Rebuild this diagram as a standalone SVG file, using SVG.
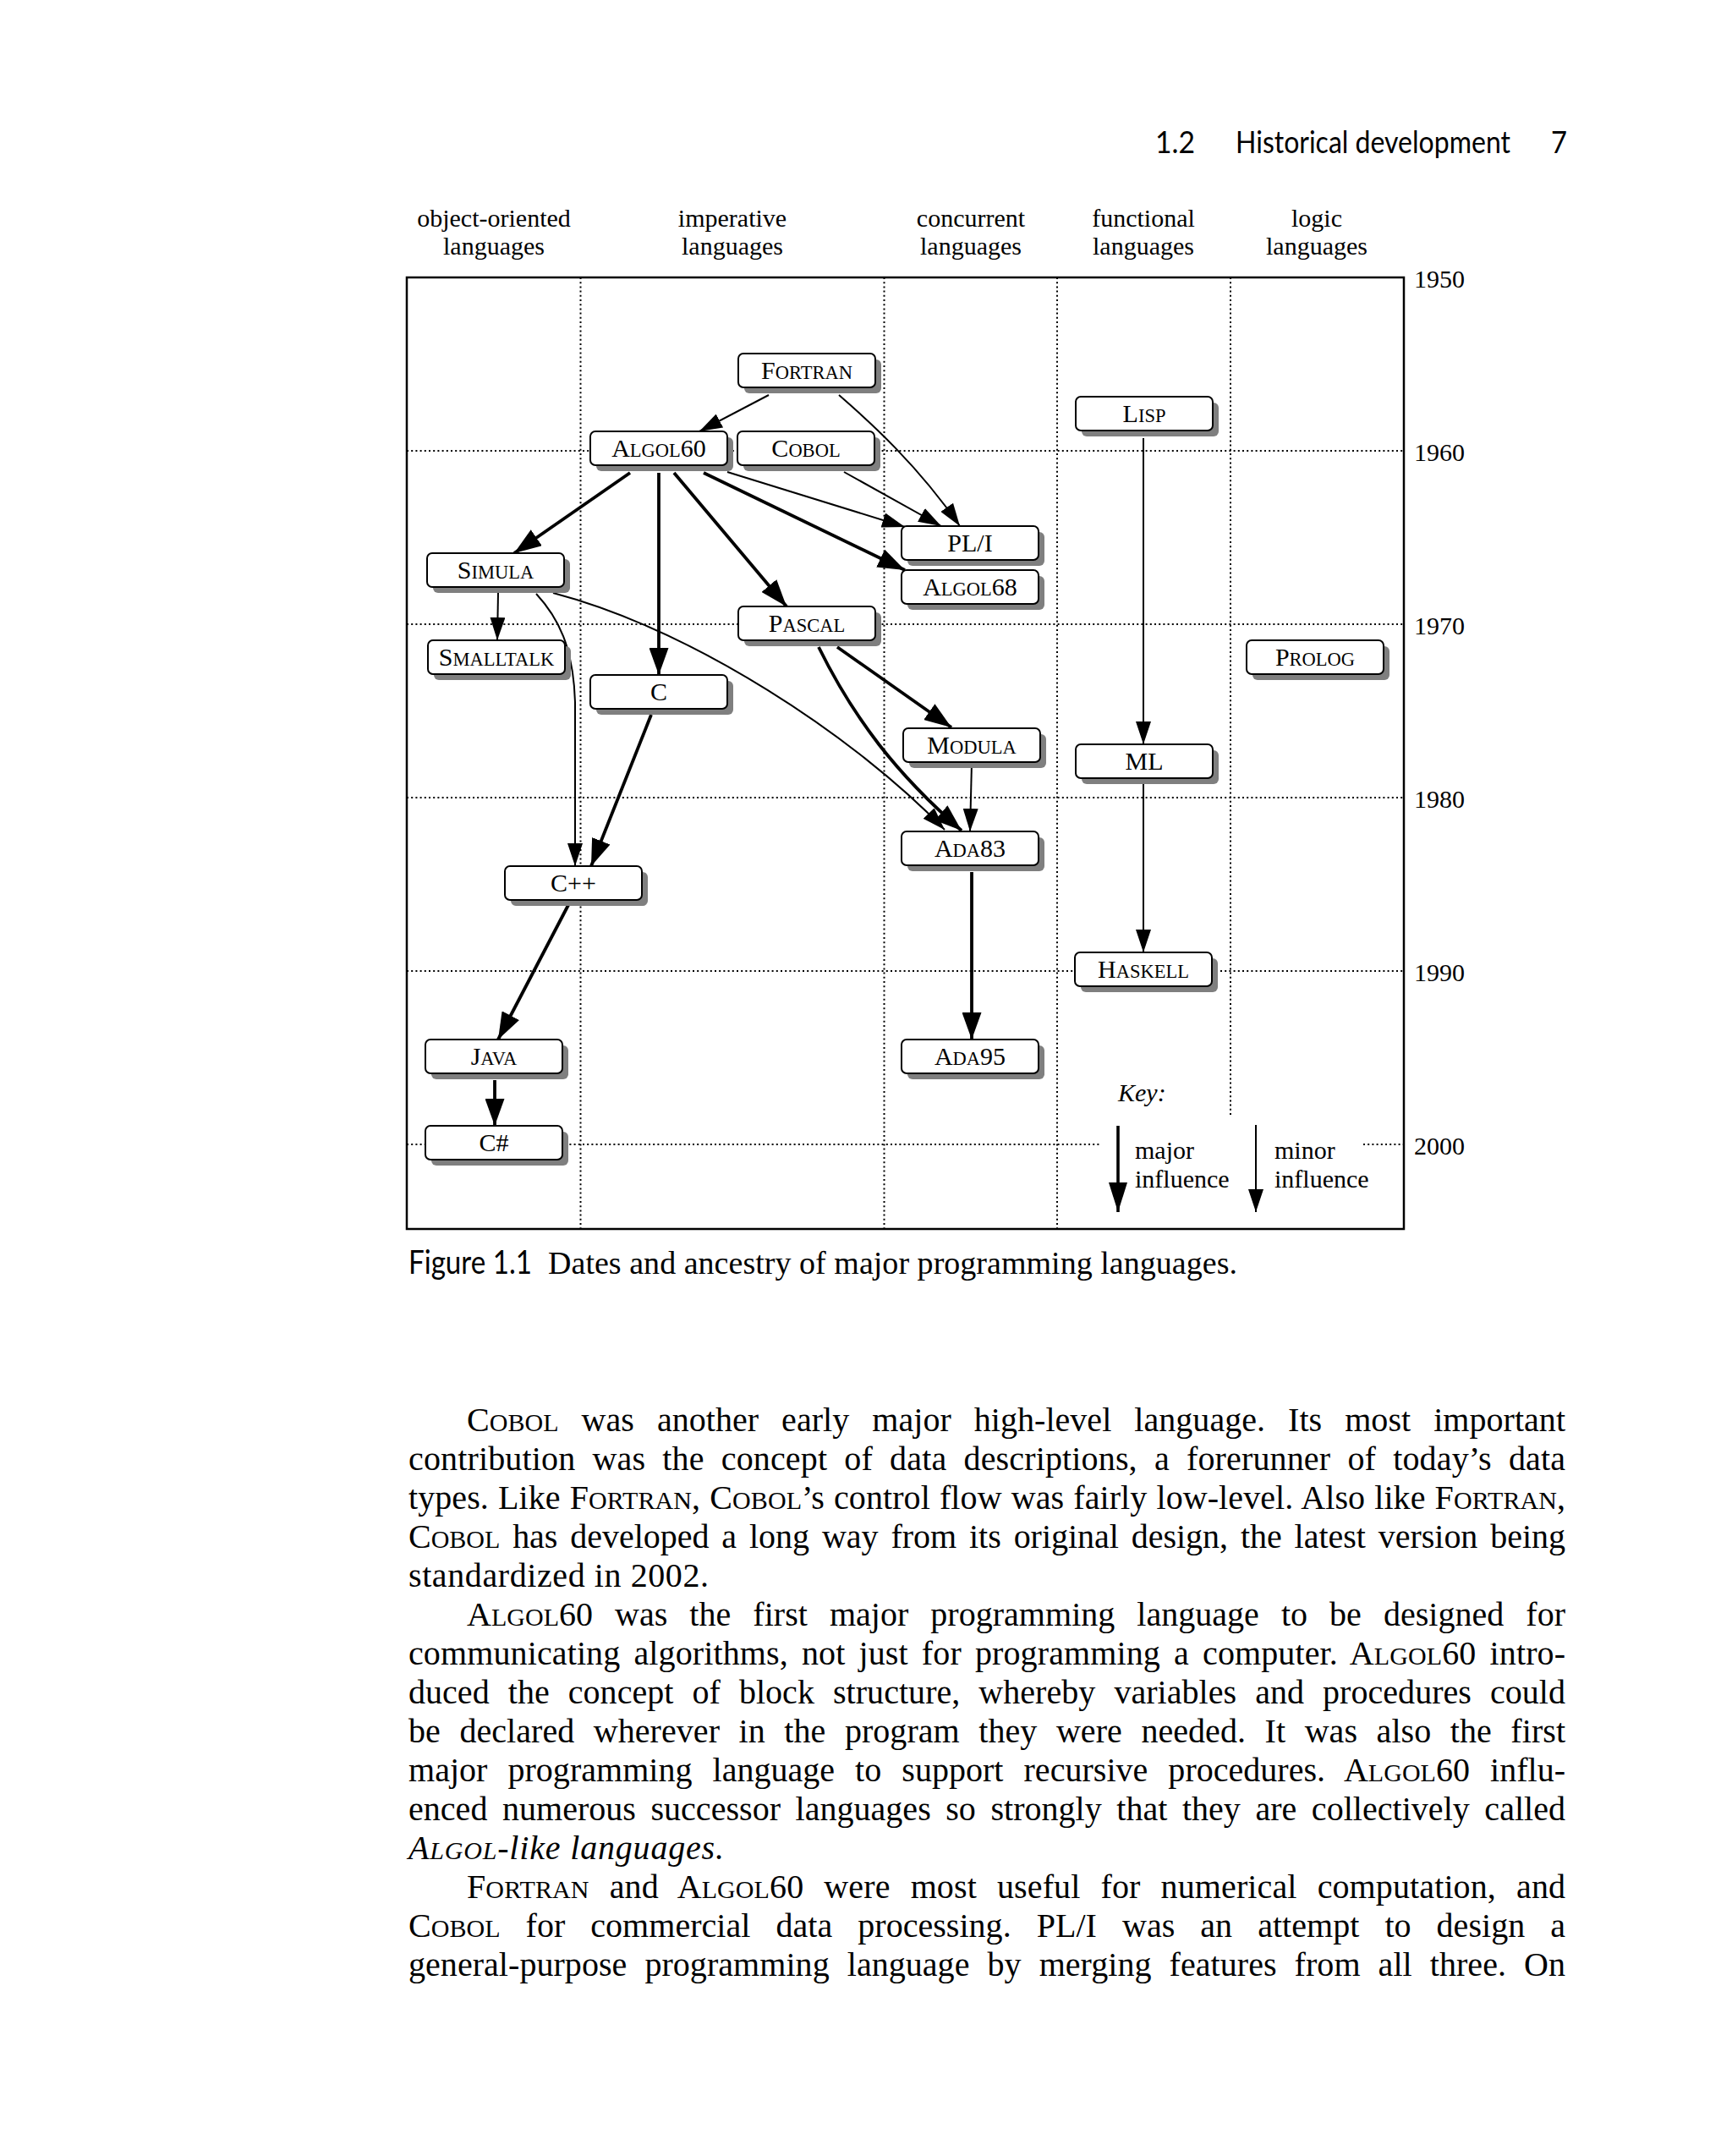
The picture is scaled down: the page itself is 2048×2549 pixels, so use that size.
<svg xmlns="http://www.w3.org/2000/svg" width="2048" height="2549" viewBox="0 0 2048 2549">
<style>
.serif{font-family:"Liberation Serif","Times New Roman",serif;fill:#000}
.sans{font-family:Lato,"Liberation Sans",sans-serif;fill:#000}
.hdr{font-size:30px;text-anchor:middle}
.yr{font-size:30px}
.lbl{font-size:30px;text-anchor:middle}
.sc{font-size:22.5px}
.body{font-size:40px}
.bsc{font-size:30px}
.grid{stroke:#000;stroke-width:2;stroke-dasharray:2 3.2;fill:none}
.frame{fill:none;stroke:#000;stroke-width:2.5}
.sh{fill:#7f7f7f}
.bx{fill:#fff;stroke:#000;stroke-width:2}
.maj{fill:none;stroke:#000;stroke-width:3.8;marker-end:url(#hMaj)}
.min{fill:none;stroke:#000;stroke-width:2;marker-end:url(#hMin)}
.kmaj{fill:none;stroke:#000;stroke-width:3.6;marker-end:url(#hKey)}
</style>
<defs>
<marker id="hMaj" markerUnits="userSpaceOnUse" viewBox="0 0 32 23" markerWidth="32" markerHeight="23" refX="32" refY="11.5" orient="auto"><path d="M0,0L32,11.5L0,23z" fill="#000"/></marker>
<marker id="hMin" markerUnits="userSpaceOnUse" viewBox="0 0 27 18" markerWidth="27" markerHeight="18" refX="27" refY="9" orient="auto"><path d="M0,0L27,9L0,18z" fill="#000"/></marker>
<marker id="hKey" markerUnits="userSpaceOnUse" viewBox="0 0 35 22" markerWidth="35" markerHeight="22" refX="35" refY="11" orient="auto"><path d="M0,0L35,11L0,22z" fill="#000"/></marker>
</defs>
<rect width="2048" height="2549" fill="#fff"/>

<g id="page-header" class="sans" font-size="36">
<text x="1366" y="181" textLength="47" lengthAdjust="spacingAndGlyphs">1.2</text>
<text x="1461" y="181" textLength="325" lengthAdjust="spacingAndGlyphs">Historical development</text>
<text x="1834" y="181" textLength="19" lengthAdjust="spacingAndGlyphs">7</text>
</g>

<g id="column-headers" class="serif hdr">
<text x="584" y="268">object-oriented</text><text x="584" y="301">languages</text>
<text x="866" y="268">imperative</text><text x="866" y="301">languages</text>
<text x="1148" y="268">concurrent</text><text x="1148" y="301">languages</text>
<text x="1352" y="268">functional</text><text x="1352" y="301">languages</text>
<text x="1557" y="268">logic</text><text x="1557" y="301">languages</text>
</g>

<g id="grid">
<path class="grid" d="M686.5,328V1453M1045.5,328V1453M1250,328V1453M1455,328V1321"/>
<path class="grid" d="M481,533H1660M481,738H1660M481,943H1660M481,1148H1660M481,1353H1301M1612,1353H1660"/>
<rect class="frame" x="481" y="328" width="1179" height="1125"/>
</g>

<g id="years" class="serif yr">
<text x="1672" y="340">1950</text>
<text x="1672" y="545">1960</text>
<text x="1672" y="750">1970</text>
<text x="1672" y="955">1980</text>
<text x="1672" y="1160">1990</text>
<text x="1672" y="1365">2000</text>
</g>

<g id="connectors">
<path class="min" d="M909,467L827,510"/>
<path class="min" d="M992,467C1030,500 1085,550 1135,622"/>
<path class="maj" d="M745,559L608,654"/>
<path class="maj" d="M779,559L779,798"/>
<path class="maj" d="M797,559L930,717"/>
<path class="min" d="M860,558L1070,623"/>
<path class="maj" d="M832,559L1070,674"/>
<path class="min" d="M998,558L1113,622"/>
<path class="min" d="M589,701L588,757"/>
<path class="min" d="M634,702C660,730 678,765 680,830L680,1024"/>
<path class="min" d="M654,701C820,745 1010,870 1117,981"/>
<path class="maj" d="M990,765L1125,860"/>
<path class="maj" d="M968,765C1010,850 1060,915 1137,982"/>
<path class="min" d="M1149,902L1147,983"/>
<path class="maj" d="M770,845L699,1024"/>
<path class="maj" d="M672,1070L589,1229"/>
<path class="maj" d="M585,1277L585,1331"/>
<path class="maj" d="M1149,1031L1149,1229"/>
<path class="min" d="M1352,518L1352,880"/>
<path class="min" d="M1352,926L1352,1126"/>
</g>

<g id="n-fortran" transform="translate(873,418)"><rect class="sh" x="7" y="7" width="162" height="40" rx="6"/><rect class="bx" width="162" height="40" rx="6"/><text class="serif lbl" x="81" y="30">F<tspan class="sc">ORTRAN</tspan></text></g>
<g id="n-algol60" transform="translate(698,510)"><rect class="sh" x="7" y="7" width="162" height="40" rx="6"/><rect class="bx" width="162" height="40" rx="6"/><text class="serif lbl" x="81" y="30">A<tspan class="sc">LGOL</tspan>60</text></g>
<g id="n-cobol" transform="translate(872,510)"><rect class="sh" x="7" y="7" width="162" height="40" rx="6"/><rect class="bx" width="162" height="40" rx="6"/><text class="serif lbl" x="81" y="30">C<tspan class="sc">OBOL</tspan></text></g>
<g id="n-lisp" transform="translate(1272,469)"><rect class="sh" x="7" y="7" width="162" height="40" rx="6"/><rect class="bx" width="162" height="40" rx="6"/><text class="serif lbl" x="81" y="30">L<tspan class="sc">ISP</tspan></text></g>
<g id="n-pli" transform="translate(1066,622)"><rect class="sh" x="7" y="7" width="162" height="40" rx="6"/><rect class="bx" width="162" height="40" rx="6"/><text class="serif lbl" x="81" y="30">PL/I</text></g>
<g id="n-algol68" transform="translate(1066,674)"><rect class="sh" x="7" y="7" width="162" height="40" rx="6"/><rect class="bx" width="162" height="40" rx="6"/><text class="serif lbl" x="81" y="30">A<tspan class="sc">LGOL</tspan>68</text></g>
<g id="n-simula" transform="translate(505,654)"><rect class="sh" x="7" y="7" width="162" height="40" rx="6"/><rect class="bx" width="162" height="40" rx="6"/><text class="serif lbl" x="81" y="30">S<tspan class="sc">IMULA</tspan></text></g>
<g id="n-pascal" transform="translate(873,717)"><rect class="sh" x="7" y="7" width="162" height="40" rx="6"/><rect class="bx" width="162" height="40" rx="6"/><text class="serif lbl" x="81" y="30">P<tspan class="sc">ASCAL</tspan></text></g>
<g id="n-smalltalk" transform="translate(506,757)"><rect class="sh" x="7" y="7" width="162" height="40" rx="6"/><rect class="bx" width="162" height="40" rx="6"/><text class="serif lbl" x="81" y="30">S<tspan class="sc">MALLTALK</tspan></text></g>
<g id="n-prolog" transform="translate(1474,757)"><rect class="sh" x="7" y="7" width="162" height="40" rx="6"/><rect class="bx" width="162" height="40" rx="6"/><text class="serif lbl" x="81" y="30">P<tspan class="sc">ROLOG</tspan></text></g>
<g id="n-c" transform="translate(698,798)"><rect class="sh" x="7" y="7" width="162" height="40" rx="6"/><rect class="bx" width="162" height="40" rx="6"/><text class="serif lbl" x="81" y="30">C</text></g>
<g id="n-modula" transform="translate(1068,861)"><rect class="sh" x="7" y="7" width="162" height="40" rx="6"/><rect class="bx" width="162" height="40" rx="6"/><text class="serif lbl" x="81" y="30">M<tspan class="sc">ODULA</tspan></text></g>
<g id="n-ml" transform="translate(1272,880)"><rect class="sh" x="7" y="7" width="162" height="40" rx="6"/><rect class="bx" width="162" height="40" rx="6"/><text class="serif lbl" x="81" y="30">ML</text></g>
<g id="n-ada83" transform="translate(1066,983)"><rect class="sh" x="7" y="7" width="162" height="40" rx="6"/><rect class="bx" width="162" height="40" rx="6"/><text class="serif lbl" x="81" y="30">A<tspan class="sc">DA</tspan>83</text></g>
<g id="n-cpp" transform="translate(597,1024)"><rect class="sh" x="7" y="7" width="162" height="40" rx="6"/><rect class="bx" width="162" height="40" rx="6"/><text class="serif lbl" x="81" y="30">C++</text></g>
<g id="n-haskell" transform="translate(1271,1126)"><rect class="sh" x="7" y="7" width="162" height="40" rx="6"/><rect class="bx" width="162" height="40" rx="6"/><text class="serif lbl" x="81" y="30">H<tspan class="sc">ASKELL</tspan></text></g>
<g id="n-java" transform="translate(503,1229)"><rect class="sh" x="7" y="7" width="162" height="40" rx="6"/><rect class="bx" width="162" height="40" rx="6"/><text class="serif lbl" x="81" y="30">J<tspan class="sc">AVA</tspan></text></g>
<g id="n-ada95" transform="translate(1066,1229)"><rect class="sh" x="7" y="7" width="162" height="40" rx="6"/><rect class="bx" width="162" height="40" rx="6"/><text class="serif lbl" x="81" y="30">A<tspan class="sc">DA</tspan>95</text></g>
<g id="n-csharp" transform="translate(503,1331)"><rect class="sh" x="7" y="7" width="162" height="40" rx="6"/><rect class="bx" width="162" height="40" rx="6"/><text class="serif lbl" x="81" y="30">C#</text></g>

<g id="key" class="serif" font-size="30">
<text x="1322" y="1302" font-style="italic">Key:</text>
<path class="kmaj" d="M1322,1331L1322,1433"/>
<text x="1342" y="1370">major</text><text x="1342" y="1404">influence</text>
<path class="min" d="M1485,1330L1485,1433"/>
<text x="1507" y="1370">minor</text><text x="1507" y="1404">influence</text>
</g>

<g id="caption">
<text class="sans" x="483" y="1506" font-size="38" textLength="146" lengthAdjust="spacingAndGlyphs">Figure 1.1</text>
<text class="serif" x="648" y="1506" font-size="38" textLength="815" lengthAdjust="spacing">Dates and ancestry of major programming languages.</text>
</g>

<g id="body" class="serif body">
<text x="552" y="1692" word-spacing="17" textLength="1299" lengthAdjust="spacing">C<tspan class="bsc">OBOL</tspan> was another early major high-level language. Its most important</text>
<text x="483" y="1738" word-spacing="10" textLength="1368" lengthAdjust="spacing">contribution was the concept of data descriptions, a forerunner of today’s data</text>
<text x="483" y="1784" word-spacing="1" textLength="1368" lengthAdjust="spacing">types. Like F<tspan class="bsc">ORTRAN</tspan>, C<tspan class="bsc">OBOL</tspan>’s control flow was fairly low-level. Also like F<tspan class="bsc">ORTRAN</tspan>,</text>
<text x="483" y="1830" word-spacing="5" textLength="1368" lengthAdjust="spacing">C<tspan class="bsc">OBOL</tspan> has developed a long way from its original design, the latest version being</text>
<text x="483" y="1876" textLength="355" lengthAdjust="spacing">standardized in 2002.</text>
<text x="552" y="1922" word-spacing="16" textLength="1299" lengthAdjust="spacing">A<tspan class="bsc">LGOL</tspan>60 was the first major programming language to be designed for</text>
<text x="483" y="1968" word-spacing="6" textLength="1368" lengthAdjust="spacing">communicating algorithms, not just for programming a computer. A<tspan class="bsc">LGOL</tspan>60 intro-</text>
<text x="483" y="2014" word-spacing="12" textLength="1368" lengthAdjust="spacing">duced the concept of block structure, whereby variables and procedures could</text>
<text x="483" y="2060" word-spacing="12.5" textLength="1368" lengthAdjust="spacing">be declared wherever in the program they were needed. It was also the first</text>
<text x="483" y="2106" word-spacing="14" textLength="1368" lengthAdjust="spacing">major programming language to support recursive procedures. A<tspan class="bsc">LGOL</tspan>60 influ-</text>
<text x="483" y="2152" word-spacing="7.5" textLength="1368" lengthAdjust="spacing">enced numerous successor languages so strongly that they are collectively called</text>
<text x="483" y="2198" font-style="italic" textLength="373" lengthAdjust="spacing">A<tspan class="bsc">LGOL</tspan>-like languages.</text>
<text x="552" y="2244" word-spacing="14" textLength="1299" lengthAdjust="spacing">F<tspan class="bsc">ORTRAN</tspan> and A<tspan class="bsc">LGOL</tspan>60 were most useful for numerical computation, and</text>
<text x="483" y="2290" word-spacing="20" textLength="1368" lengthAdjust="spacing">C<tspan class="bsc">OBOL</tspan> for commercial data processing. PL/I was an attempt to design a</text>
<text x="483" y="2336" word-spacing="11" textLength="1368" lengthAdjust="spacing">general-purpose programming language by merging features from all three. On</text>
</g>
</svg>
